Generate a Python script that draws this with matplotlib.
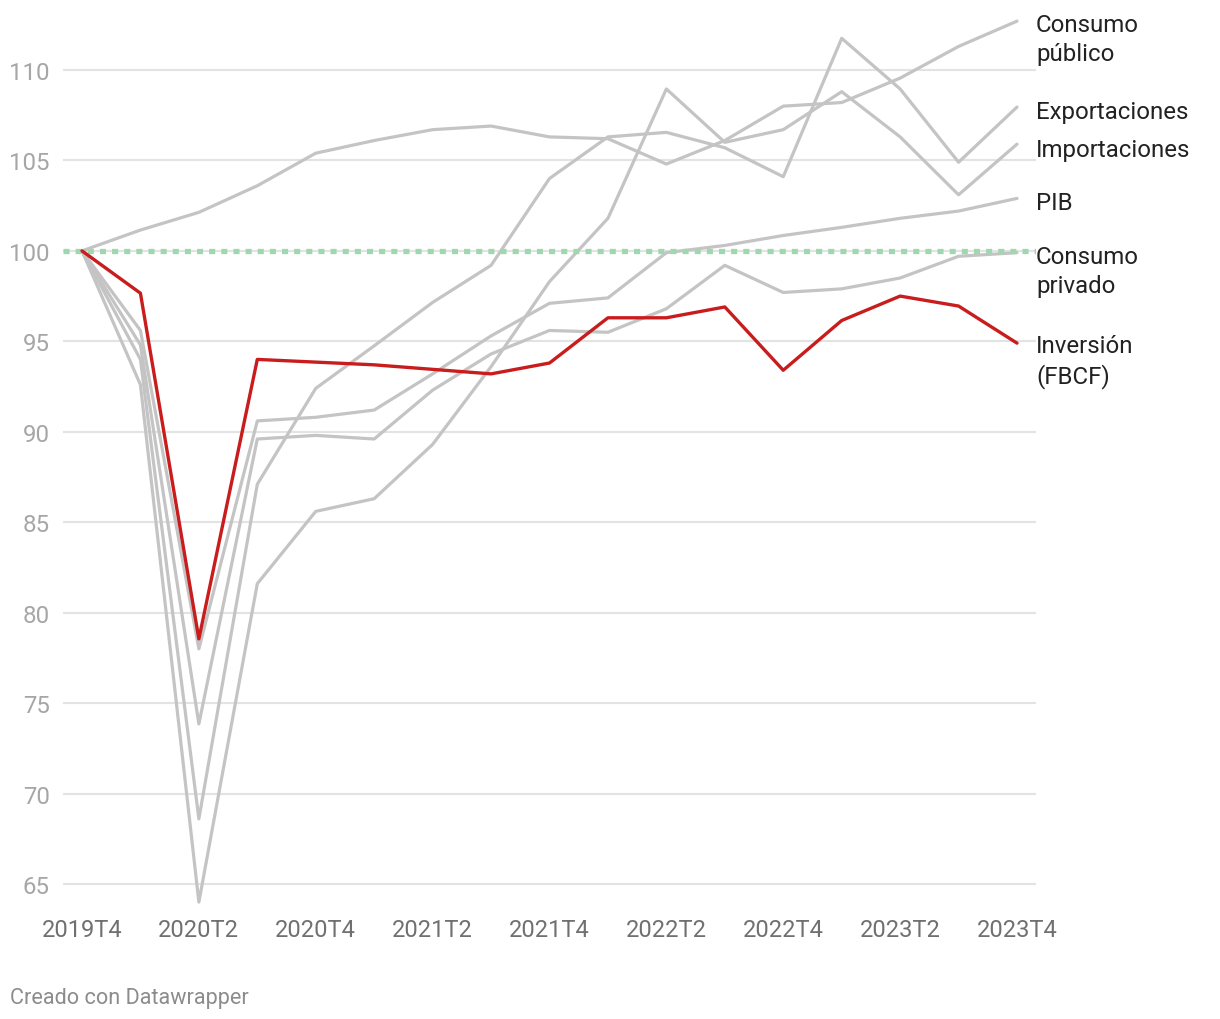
import matplotlib
matplotlib.use("Agg")
import matplotlib.pyplot as plt
from matplotlib.transforms import blended_transform_factory

plt.rcParams['font.family'] = ['Roboto', 'DejaVu Sans']

# ---------------- data ----------------
quarters = ['2019T4', '2020T1', '2020T2', '2020T3', '2020T4',
            '2021T1', '2021T2', '2021T3', '2021T4',
            '2022T1', '2022T2', '2022T3', '2022T4',
            '2023T1', '2023T2', '2023T3', '2023T4']

consumo_publico = [100, 101.15, 102.13, 103.6, 105.4, 106.1, 106.7, 106.9, 106.3,
                   106.2, 104.8, 106.1, 108.0, 108.2, 109.55, 111.3, 112.7]
exportaciones = [100, 94.0, 68.6, 87.1, 92.4, 94.75, 97.15, 99.2, 104.0,
                 106.3, 106.55, 105.7, 104.1, 111.75, 108.95, 104.9, 107.95]
importaciones = [100, 92.6, 64.0, 81.6, 85.6, 86.3, 89.3, 93.6, 98.3,
                 101.8, 108.95, 106.0, 106.7, 108.8, 106.3, 103.1, 105.9]
pib = [100, 95.6, 78.0, 90.6, 90.8, 91.2, 93.2, 95.3, 97.1,
       97.4, 99.9, 100.3, 100.85, 101.3, 101.8, 102.2, 102.9]
consumo_privado = [100, 94.8, 73.85, 89.6, 89.8, 89.6, 92.3, 94.3, 95.6,
                   95.5, 96.8, 99.2, 97.7, 97.9, 98.5, 99.7, 99.9]
inversion = [100, 97.66, 78.55, 94.0, 93.85, 93.7, 93.45, 93.2, 93.8,
             96.3, 96.3, 96.9, 93.4, 96.15, 97.5, 96.95, 94.9]

gray_series = [consumo_publico, exportaciones, importaciones, pib, consumo_privado]
label_texts = ['Consumo\npúblico', 'Exportaciones', 'Importaciones', 'PIB',
               'Consumo\nprivado', 'Inversión\n(FBCF)']
label_y = [111.7, 107.73, 105.63, 102.65, 98.9, 93.9]

y_ticks = [65, 70, 75, 80, 85, 90, 95, 100, 105, 110]
x_tick_idx = list(range(0, len(quarters), 2))
reference_value = 100

# ---------------- figure ----------------
W, H = 1220, 1020
fig = plt.figure(figsize=(W / 100, H / 100), dpi=100)
ax = fig.add_axes([63 / W, 1 - 903.1 / H, (1036 - 63) / W, (903.1 - 16.7) / H])
x = list(range(len(quarters)))
ax.set_xlim(-0.325, 16.325)
ax.set_ylim(64, 113)

for s in ax.spines.values():
    s.set_visible(False)

# gridlines
for v in y_ticks:
    ax.axhline(v, color='#e3e3e3', lw=1.5, zorder=1)

GRAY = '#c4c4c4'
RED = '#c91d1d'
for s in gray_series:
    ax.plot(x, s, color=GRAY, lw=2.3, solid_joinstyle='round',
            solid_capstyle='round', zorder=3, clip_on=False)

ref = ax.axhline(reference_value, color='#9fd8ae', lw=3.8, zorder=4,
                 dash_capstyle='butt')
ref.set_dashes((1.15, 1.15))

ax.plot(x, inversion, color=RED, lw=2.4, solid_joinstyle='round',
        solid_capstyle='round', zorder=5, clip_on=False)

# ticks
ax.set_yticks(y_ticks)
ax.set_yticklabels([str(v) for v in y_ticks])
ax.set_xticks(x_tick_idx)
ax.set_xticklabels([quarters[i] for i in x_tick_idx])
ax.tick_params(axis='y', length=0, pad=9.4, labelsize=17.3, labelcolor='#a6a6a6')
ax.tick_params(axis='x', length=0, pad=11.5, labelsize=17.0, labelcolor='#707070')

# right labels
tr = blended_transform_factory(ax.transAxes, ax.transData)
for txt, yv in zip(label_texts, label_y):
    ax.text(1.0, yv, txt, transform=tr, ha='left', va='center', fontsize=17.3,
            color='#222222', linespacing=1.32, clip_on=False)

fig.text(10 / W, 1 - 999 / H, 'Creado con Datawrapper', ha='left', va='center',
         fontsize=15.6, color='#8c8c8c')

fig.savefig('out.png', dpi=100, facecolor='white')
